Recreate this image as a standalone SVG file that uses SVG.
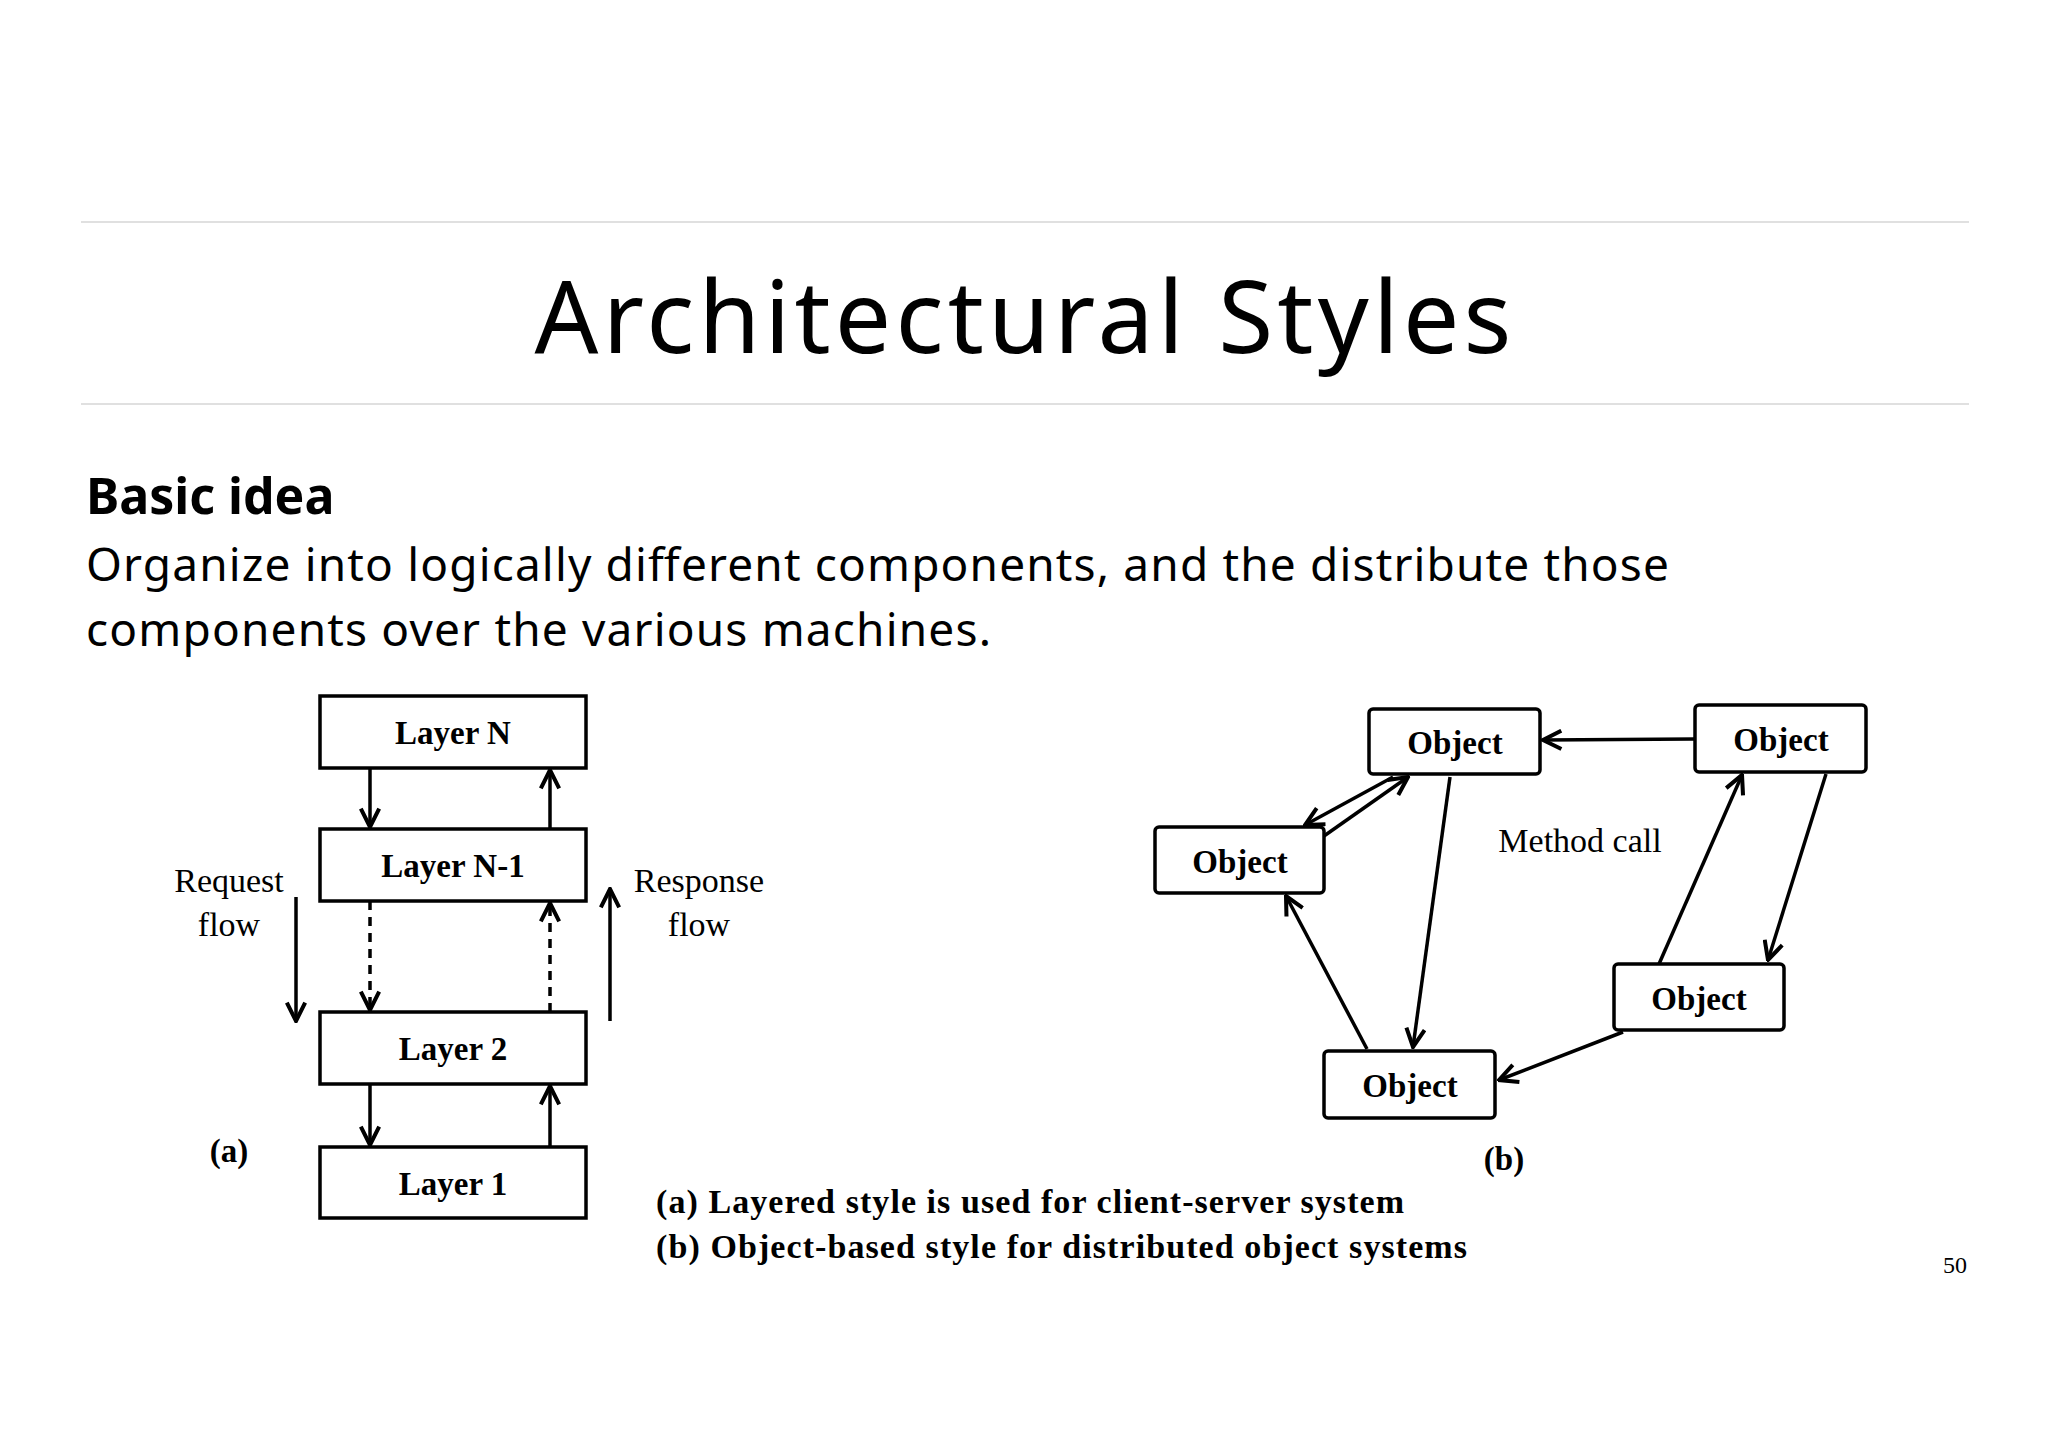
<svg xmlns="http://www.w3.org/2000/svg" width="2048" height="1448" viewBox="0 0 2048 1448">
<defs>
<marker id="ah2" viewBox="0 0 12 12" refX="11" refY="6" markerWidth="22" markerHeight="22" markerUnits="userSpaceOnUse" orient="auto">
<path d="M1,1 L11,6 L1,11" fill="none" stroke="#000" stroke-width="2.2"/>
</marker>
</defs>
<style>
.rule{stroke:#d6d6d6;stroke-width:1.5}
.box{fill:#fff;stroke:#000;stroke-width:3.5}
.obox{fill:#fff;stroke:#000;stroke-width:3.5}
.lbl{font-family:"Liberation Serif",serif;font-weight:bold;font-size:33px;text-anchor:middle}
.ed{stroke:#000;stroke-width:3.5;fill:none;marker-end:url(#ah2)}
.dash{stroke-dasharray:9,7}
.plain{font-family:"Liberation Serif",serif;font-size:34px;text-anchor:middle}
.slide{font-family:"Noto Sans",sans-serif}
.cap{font-family:"Liberation Serif",serif;font-weight:bold;font-size:34px}
</style>
<rect width="2048" height="1448" fill="#fff"/>
<line class="rule" x1="81" y1="222" x2="1969" y2="222"/>
<line class="rule" x1="81" y1="404" x2="1969" y2="404"/>
<text class="slide" x="1023" y="353" font-size="100" text-anchor="middle" textLength="977">Architectural Styles</text>
<text class="slide" x="86" y="514" font-size="50" font-weight="bold">Basic idea</text>
<text class="slide" x="86" y="581" font-size="46" textLength="1583">Organize into logically different components, and the distribute those</text>
<text class="slide" x="86" y="646" font-size="46" textLength="905">components over the various machines.</text>

<g id="layerN"><rect class="box" x="320" y="696" width="266" height="72"/><text class="lbl" x="453" y="744">Layer N</text></g>
<g id="layerN1"><rect class="box" x="320" y="829" width="266" height="72"/><text class="lbl" x="453" y="877">Layer N-1</text></g>
<g id="layer2"><rect class="box" x="320" y="1012" width="266" height="72"/><text class="lbl" x="453" y="1060">Layer 2</text></g>
<g id="layer1"><rect class="box" x="320" y="1147" width="266" height="71"/><text class="lbl" x="453" y="1195">Layer 1</text></g>
<text class="plain" x="229" y="892">Request</text>
<text class="plain" x="229" y="936">flow</text>
<text class="plain" x="699" y="892">Response</text>
<text class="plain" x="699" y="936">flow</text>
<text class="lbl" x="229" y="1162">(a)</text>

<g id="objA"><rect class="obox" x="1369" y="709" width="171" height="65" rx="4"/><text class="lbl" x="1455" y="754">Object</text></g>
<g id="objB"><rect class="obox" x="1695" y="705" width="171" height="67" rx="4"/><text class="lbl" x="1781" y="751">Object</text></g>
<g id="objC"><rect class="obox" x="1155" y="827" width="169" height="66" rx="4"/><text class="lbl" x="1240" y="873">Object</text></g>
<g id="objD"><rect class="obox" x="1614" y="964" width="170" height="66" rx="4"/><text class="lbl" x="1699" y="1010">Object</text></g>
<g id="objE"><rect class="obox" x="1324" y="1051" width="171" height="67" rx="4"/><text class="lbl" x="1410" y="1097">Object</text></g>
<text class="plain" x="1580" y="852">Method call</text>
<text class="lbl" x="1504" y="1170">(b)</text>

<g id="connectors">
<line class="ed" x1="370" y1="768" x2="370" y2="827"/>
<line class="ed" x1="550" y1="829" x2="550" y2="770"/>
<line class="ed dash" x1="370" y1="901" x2="370" y2="1010"/>
<line class="ed dash" x1="550" y1="1012" x2="550" y2="903"/>
<line class="ed" x1="370" y1="1084" x2="370" y2="1145"/>
<line class="ed" x1="550" y1="1147" x2="550" y2="1086"/>
<line class="ed" x1="296" y1="897" x2="296" y2="1021"/>
<line class="ed" x1="610" y1="1021" x2="610" y2="889"/>
<line class="ed" x1="1694" y1="739" x2="1543" y2="740"/>
<line class="ed" x1="1393" y1="777" x2="1305" y2="825"/>
<line class="ed" x1="1324" y1="836" x2="1408" y2="777"/>
<line class="ed" x1="1450" y1="777" x2="1413" y2="1047"/>
<line class="ed" x1="1367" y1="1049" x2="1286" y2="896"/>
<line class="ed" x1="1659" y1="964" x2="1742" y2="775"/>
<line class="ed" x1="1826" y1="774" x2="1768" y2="960"/>
<line class="ed" x1="1623" y1="1032" x2="1499" y2="1080"/>
</g>

<text class="cap" x="656" y="1213" textLength="748">(a)  Layered style is used for client-server system</text>
<text class="cap" x="656" y="1258" textLength="811">(b) Object-based style for distributed object systems</text>
<text font-family="Liberation Serif,serif" font-size="24" x="1955" y="1273" text-anchor="middle">50</text>
</svg>
